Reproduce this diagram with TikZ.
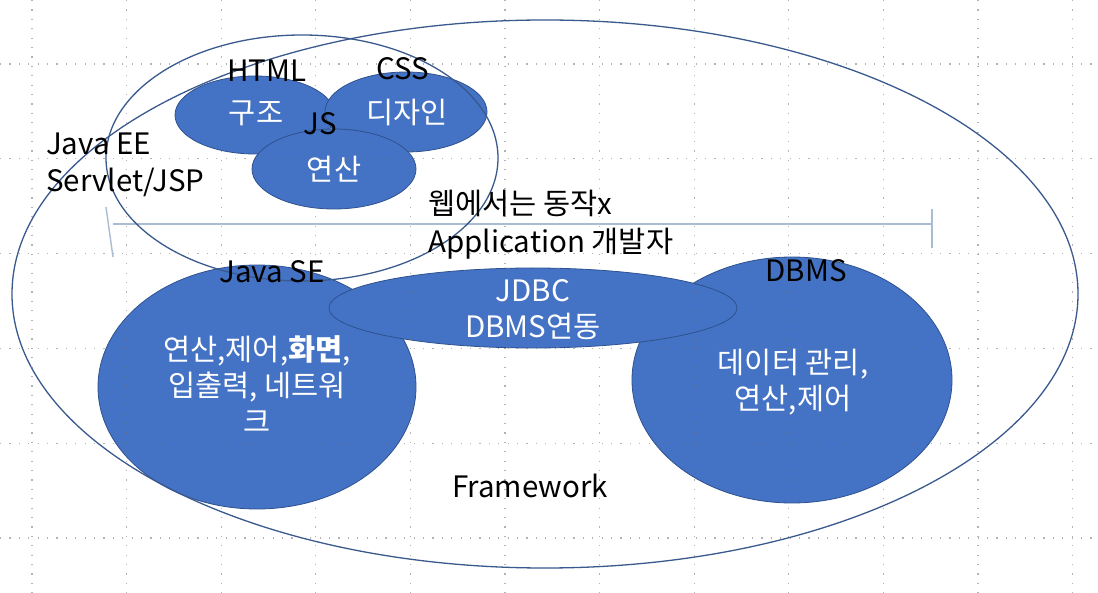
\documentclass[tikz,border=0pt]{standalone}
\usepackage{fontspec}
\setmainfont{Noto Sans CJK KR}
\usetikzlibrary{shapes.geometric}
\definecolor{fillblue}{HTML}{4472C4}
\definecolor{edgeblue}{HTML}{2F528F}
\definecolor{ringblue}{HTML}{3A5A8E}
\definecolor{barblue}{HTML}{A9BCD2}
\begin{document}
\begin{tikzpicture}[x=1pt,y=-1pt,
  blob/.style={ellipse, draw=edgeblue, fill=fillblue, line width=0.8pt, inner sep=0pt},
  ring/.style={ellipse, draw=ringblue, line width=1.3pt, inner sep=0pt},
  bar/.style={draw=barblue, line width=1.8pt},
  gridline/.style={draw=black!55, line width=1.2pt, dash pattern=on 1.2pt off 8.2pt, opacity=0.55},
  lbl/.style={anchor=base, inner sep=0pt, text=black, font=\fontsize{29.5}{37}\selectfont},
  wlbl/.style={lbl, text=white}]
\useasboundingbox (0,0) rectangle (1098,593);
\fill[white] (0,0) rectangle (1098,593);
% filled shapes
\node[blob, minimum width=160pt, minimum height=78pt] (html) at (255,115) {};
\node[blob, minimum width=162pt, minimum height=80pt] (css) at (406,112) {};
\node[blob, minimum width=164pt, minimum height=80pt] (js) at (334,169) {};
\node[blob, minimum width=318pt, minimum height=244pt] (se) at (257,387) {};
\node[blob, minimum width=320pt, minimum height=246pt] (dbms) at (792,380) {};
\node[blob, minimum width=408pt, minimum height=80pt] (jdbc) at (533,308) {};
% dimension bar
\coordinate (barL) at (113,224);
\coordinate (barR) at (932,224);
\coordinate (tickRt) at (932,209);
\coordinate (tickRb) at (932,248);
\coordinate (tickLt) at (106,207);
\coordinate (tickLb) at (113,257);
\draw[bar] (barL) -- (barR);
\draw[bar] (tickRt) -- (tickRb);
\draw[bar, line width=1.4pt] (tickLt) -- (tickLb);
% outline rings
\node[ring, minimum width=1066pt, minimum height=548pt] (fw) at (545,294) {};
\node[ring, minimum width=392pt, minimum height=246pt] (ee) at (302,158) {};
% grid
\foreach \i in {0,...,11} \draw[gridline] ({32+94.6*\i},0) -- ({32+94.6*\i},593);
\foreach \j in {0,...,5} \draw[gridline] (0,{64+94.8*\j}) -- (1098,{64+94.8*\j});
% labels (multi-line nodes: base = last line's baseline)
\node[lbl] (thtml) at (267,82) {HTML};
\node[lbl] (tcss) at (403,80) {CSS};
\node[lbl] (tjs) at (320,135) {JS};
\node[wlbl] (tgujo) at (256,124) {구조};
\node[wlbl] (tdesign) at (407,124) {디자인};
\node[wlbl] (tcalc) at (334,181) {연산};
\node[lbl, anchor=base west, align=left] (tee) at (46,192) {Java EE\\Servlet/JSP};
\node[lbl, anchor=base west, align=left, font=\fontsize{29.5}{38}\selectfont] (tweb) at (428,253) {웹에서는 동작x\\Application 개발자};
\node[lbl] (tse) at (272,283) {Java SE};
\node[wlbl, align=center, font=\fontsize{29.5}{36.5}\selectfont] (tsebody) at (257,433) {연산,제어,\textbf{화면},\\입출력, 네트워\\크};
\node[lbl] (tdbms) at (806,282) {DBMS};
\node[wlbl, align=center, font=\fontsize{29.5}{36}\selectfont] (tjdbc) at (533,338) {JDBC\\DBMS연동};
\node[wlbl, align=center, font=\fontsize{29.5}{36}\selectfont] (tdbmsbody) at (793,410) {데이터 관리,\\연산,제어};
\node[lbl] (tfw) at (530,497) {Framework};
\end{tikzpicture}
\end{document}
